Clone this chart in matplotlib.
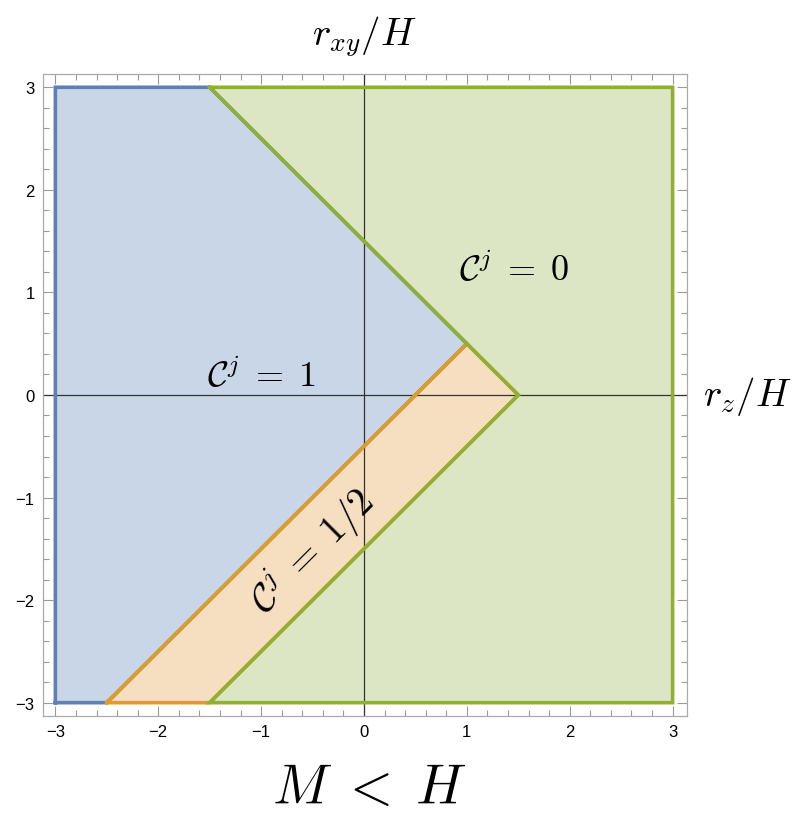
import matplotlib
matplotlib.use("Agg")
import matplotlib.pyplot as plt
from matplotlib.ticker import MultipleLocator

plt.rcParams["mathtext.fontset"] = "cm"
plt.rcParams["font.family"] = ["Liberation Sans", "DejaVu Sans"]

# Phase regions in the (r_z/H, r_xy/H) plane
region_c1 = [(-3, -3), (-3, 3), (-1.5, 3), (1, 0.5), (-2.5, -3)]
region_half = [(-2.5, -3), (1, 0.5), (1.5, 0), (-1.5, -3)]
region_c0 = [(-1.5, 3), (3, 3), (3, -3), (-1.5, -3), (1.5, 0), (1, 0.5)]

regions = [
    (region_c1, "#C9D6E7", "#5E81B5"),
    (region_half, "#F6DFC0", "#E19C24"),
    (region_c0, "#DCE6C4", "#8FB032"),
]

ticks = [-3, -2, -1, 0, 1, 2, 3]
tick_labels = ["\u22123", "\u22122", "\u22121", "0", "1", "2", "3"]

fig = plt.figure(figsize=(7.98, 8.2), dpi=100)
ax = fig.add_axes([0.0539, 0.1256, 0.807, 0.783])

for pts, face, edge in regions:
    xs = [p[0] for p in pts] + [pts[0][0]]
    ys = [p[1] for p in pts] + [pts[0][1]]
    ax.fill(xs, ys, color=face, zorder=1, lw=0)
    ax.plot(xs, ys, color=edge, lw=2.6, zorder=3, solid_joinstyle="miter")

ax.axhline(0, color="#333333", lw=0.9, zorder=2)
ax.axvline(0, color="#333333", lw=0.9, zorder=2)

ax.set_xlim(-3.12, 3.14)
ax.set_ylim(-3.13, 3.13)
ax.set_xticks(ticks)
ax.set_yticks(ticks)
ax.set_xticklabels(tick_labels)
ax.set_yticklabels(tick_labels)
ax.xaxis.set_minor_locator(MultipleLocator(0.2))
ax.yaxis.set_minor_locator(MultipleLocator(0.2))
ax.tick_params(which="both", direction="in", top=True, right=True,
               color="#9a9a9a", labelsize=12, width=0.8)
ax.tick_params(which="major", length=7)
ax.tick_params(which="minor", length=4)
ax.tick_params(axis="both", which="major", pad=6)
ax.tick_params(labeltop=False, labelright=False)
for s in ax.spines.values():
    s.set_color("#aaaaaa")
    s.set_linewidth(0.9)

ax.text(1.46, 1.22, r"$\mathcal{C}^j\;=\;0$", fontsize=26, ha="center", va="center")
ax.text(-1.0, 0.18, r"$\mathcal{C}^j\;=\;1$", fontsize=26, ha="center", va="center")
ax.text(-0.5, -1.52, r"$\mathcal{C}^j\;=\;1/2$", fontsize=28, ha="center", va="center",
        rotation=45, rotation_mode="anchor")

fig.text(0.457, 0.955, r"$r_{xy}/H$", fontsize=28, ha="center", va="center")
fig.text(0.937, 0.516, r"$r_z/H$", fontsize=28, ha="center", va="center")
fig.text(0.463, 0.036, r"$M\;<\;H$", fontsize=40, ha="center", va="center")

fig.savefig("out.png", dpi=100)
